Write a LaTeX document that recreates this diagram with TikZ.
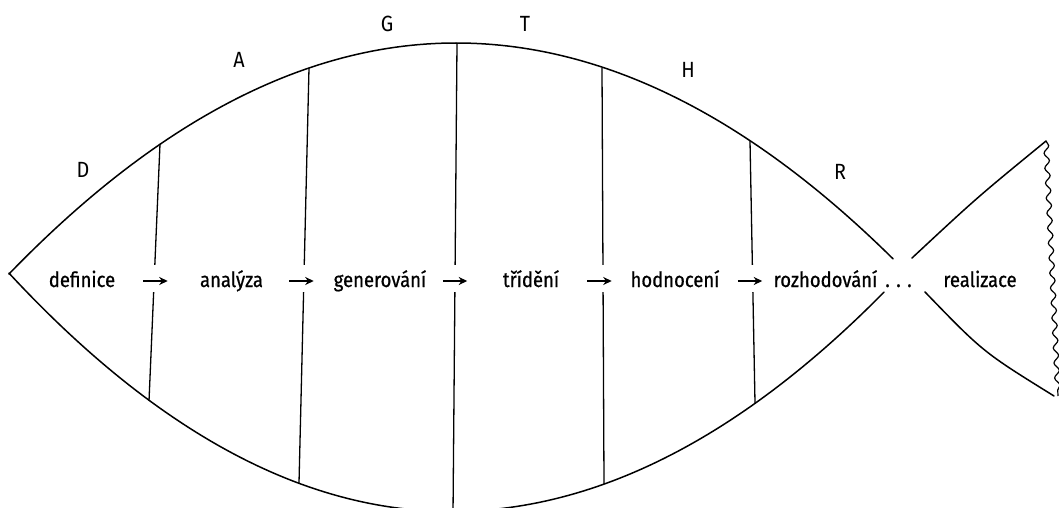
\documentclass[tikz,border=0pt]{standalone}
\usepackage{fontspec}
\setmainfont{Fira Sans}[FakeStretch=0.9]
\newfontfamily\stagefont{Fira Sans}[FakeStretch=0.88, FakeBold=0.7]
\usetikzlibrary{arrows.meta,decorations.pathmorphing}
\begin{document}
\begin{tikzpicture}[x=1pt,y=-1pt,
  body/.style={line width=1.5pt, line cap=round, line join=round},
  divider/.style={line width=1.3pt},
  gapbox/.style={fill=white, inner sep=0pt, minimum width=26pt, minimum height=27pt},
  label/.style={font=\stagefont\fontsize{21}{24}\selectfont, inner sep=0pt, anchor=base},
  letter/.style={font=\fontsize{22}{26}\selectfont, inner sep=0pt},
  arr/.style={line width=1.4pt, shorten <=1pt, shorten >=1pt, -{Stealth[length=8.5pt,width=8pt]}}]
\useasboundingbox (0,0) rectangle (1059,508);
\clip (0,0) rectangle (1059,508);

% fish body
\draw[body] plot[domain=9:456, samples=60] (\x,{43+11.56*((\x-456)/100)^2})
  -- plot[domain=456:893, samples=60] (\x,{43+11.3*((\x-456)/100)^2});
\draw[body] plot[domain=9:451, samples=60] (\x,{511.5-12.2*((\x-451)/100)^2})
  -- plot[domain=451:884, samples=60] (\x,{511.5-11.7*((\x-451)/100)^2});

% tail
\coordinate (tu0) at (912,258);
\coordinate (tu1) at (1046,141);
\coordinate (tl0) at (925,292);
\coordinate (tl1) at (1054,396);
\coordinate (te) at (1058,396);
\draw[body] (tu0) .. controls (977,197.5) .. (tu1);
\draw[body] (tl0) .. controls (983,352) .. (tl1);
\draw[line width=1.2pt, decorate, decoration={snake, amplitude=2.5pt, segment length=15pt}] (tu1) -- (te);

% dividers
\coordinate (d1t) at (160,144); \coordinate (d1b) at (149,401);
\coordinate (d2t) at (309,68);  \coordinate (d2b) at (299,483);
\coordinate (d3t) at (457,43);  \coordinate (d3b) at (453,514);
\coordinate (d4t) at (602,68);  \coordinate (d4b) at (604,484);
\coordinate (d5t) at (750,141); \coordinate (d5b) at (755,403);
\foreach \i in {1,...,5} { \draw[divider] (d\i t) -- (d\i b); }

% gaps with arrows
\node[gapbox] (a1) at (155.5,278) {};
\node[gapbox] (a2) at (301.5,278) {};
\node[gapbox] (a3) at (455,278) {};
\node[gapbox] (a4) at (599.5,278) {};
\node[gapbox] (a5) at (750,278) {};
\foreach \i in {1,...,5} { \draw[arr] ([yshift=-3pt]a\i.west) -- ([yshift=-3pt]a\i.east); }

% stage labels
\node[label] (def) at (82,287) {definice};
\node[label] (ana) at (231.5,287) {analýza};
\node[label] (gen) at (380,287) {generování};
\node[label] (tri) at (531,287) {třídění};
\node[label] (hod) at (675,287) {hodnocení};
\node[label] (roz) at (825.5,287) {rozhodování};
\node[label] (dots) at (898.5,287) {. . .};
\node[label] (real) at (980,287) {realizace};

% letters
\node[letter] (lD) at (83,170) {D};
\node[letter] (lA) at (239,60) {A};
\node[letter] (lG) at (387,24) {G};
\node[letter] (lT) at (525,24) {T};
\node[letter] (lH) at (688,70) {H};
\node[letter] (lR) at (840,172) {R};
\end{tikzpicture}
\end{document}
